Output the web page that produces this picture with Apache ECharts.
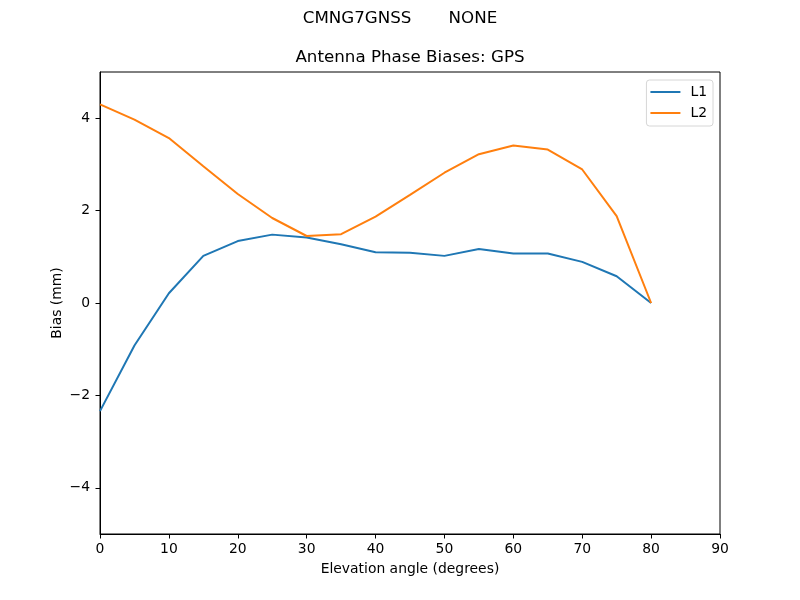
<!DOCTYPE html>
<html>
<head>
<meta charset="utf-8">
<script src="https://cdn.jsdelivr.net/npm/echarts@6/dist/echarts.min.js"></script>
<style>
html,body{margin:0;padding:0;background:#fff;}
#chart{width:800px;height:600px;}
</style>
</head>
<body>
<div id="chart"></div>
<script>
const elevation = [0, 5, 10, 15, 20, 25, 30, 35, 40, 45, 50, 55, 60, 65, 70, 75, 80];
const l1Values = [-2.34, -0.92, 0.21, 1.02, 1.34, 1.48, 1.42, 1.27, 1.10, 1.09, 1.02, 1.17, 1.07, 1.07, 0.89, 0.58, 0.0];
const l2Values = [4.30, 3.97, 3.57, 2.96, 2.36, 1.84, 1.45, 1.49, 1.87, 2.34, 2.82, 3.22, 3.41, 3.32, 2.89, 1.88, 0.0];
const yTicks = [-4, -2, 0, 2, 4];
const seriesNames = ['L1', 'L2'];
const suptitle = 'CMNG7GNSS       NONE';
const axesTitle = 'Antenna Phase Biases: GPS';

const FONT = 'DejaVu Sans';
const chart = echarts.init(document.getElementById('chart'));
const minus = v => String(v).replace('-', '\u2212');

chart.setOption({
  backgroundColor: '#fff',
  animation: false,
  textStyle: { fontFamily: FONT },
  title: [
    { text: suptitle, left: 'center', top: 10, padding: 0,
      textStyle: { fontFamily: FONT, fontSize: 16.7, fontWeight: 'normal', color: '#000' } },
    { text: axesTitle, left: 410, top: 49, padding: 0, textAlign: 'center',
      textStyle: { fontFamily: FONT, fontSize: 16.7, fontWeight: 'normal', color: '#000' } }
  ],
  legend: {
    orient: 'vertical',
    right: 87, top: 80,
    padding: [4, 6, 5, 4],
    icon: 'rect',
    itemWidth: 30, itemHeight: 2, itemGap: 5,
    borderColor: '#d6d6d6', borderWidth: 1, borderRadius: 3,
    backgroundColor: 'rgba(255,255,255,0.8)',
    textStyle: { fontFamily: FONT, fontSize: 13.9, color: '#000', padding: [0, 0, 0, 5], lineHeight: 16 },
    data: seriesNames
  },
  grid: {
    left: 100, right: 80, top: 72, bottom: 66,
    show: true, borderColor: '#000', borderWidth: 1, backgroundColor: 'transparent'
  },
  xAxis: {
    type: 'value', min: 0, max: 90, interval: 10,
    name: 'Elevation angle (degrees)', nameLocation: 'middle', nameGap: 28, nameMoveOverlap: false,
    nameTextStyle: { fontFamily: FONT, fontSize: 13.9, color: '#000' },
    axisLine: { show: true, onZero: false, lineStyle: { color: '#000', width: 1 } },
    axisTick: { show: true, inside: false, length: 4.5, lineStyle: { color: '#000', width: 1 } },
    axisLabel: { fontFamily: FONT, fontSize: 13.9, color: '#000', margin: 8, formatter: minus },
    splitLine: { show: false }
  },
  yAxis: {
    type: 'value', min: -5, max: 5,
    name: 'Bias (mm)', nameLocation: 'middle', nameGap: 36, nameRotate: 90, nameMoveOverlap: false,
    nameTextStyle: { fontFamily: FONT, fontSize: 13.9, color: '#000' },
    axisLine: { show: true, onZero: false, lineStyle: { color: '#000', width: 1 } },
    axisTick: { show: true, inside: false, length: 4.5, customValues: yTicks, lineStyle: { color: '#000', width: 1 } },
    axisLabel: { fontFamily: FONT, fontSize: 13.9, color: '#000', margin: 10, customValues: yTicks, formatter: minus },
    splitLine: { show: false }
  },
  series: [
    { name: seriesNames[0], type: 'line', symbol: 'none', color: '#1f77b4',
      lineStyle: { width: 2, color: '#1f77b4' },
      data: elevation.map((x, i) => [x, l1Values[i]]) },
    { name: seriesNames[1], type: 'line', symbol: 'none', color: '#ff7f0e',
      lineStyle: { width: 2, color: '#ff7f0e' },
      data: elevation.map((x, i) => [x, l2Values[i]]) }
  ]
});
</script>
</body>
</html>
